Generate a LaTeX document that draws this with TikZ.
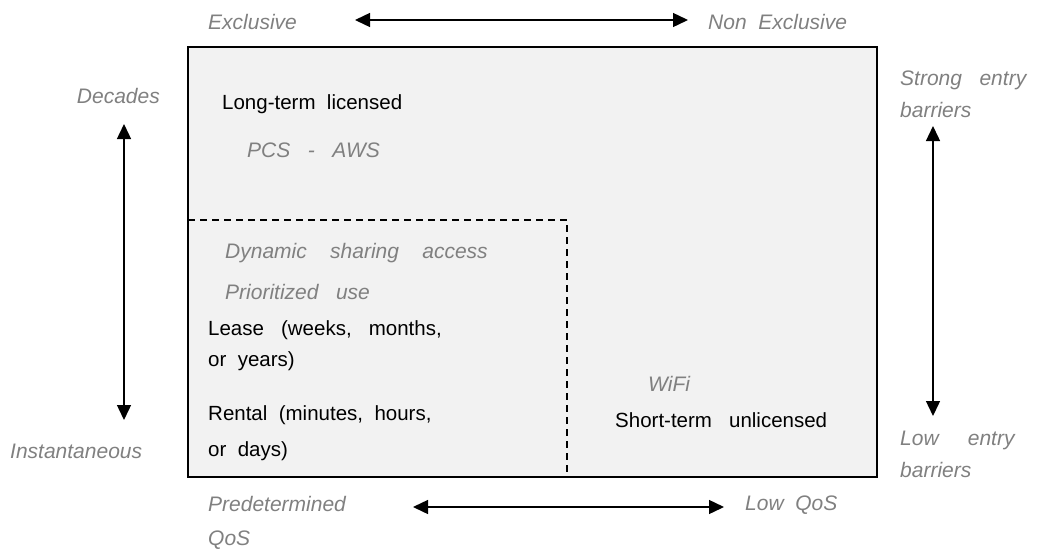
\documentclass[tikz,border=0pt]{standalone}
\usepackage{fontspec}
\setmainfont{Liberation Sans}
\usetikzlibrary{arrows.meta}
\definecolor{lbl}{RGB}{128,128,128}
\definecolor{boxfill}{RGB}{242,242,242}
\begin{document}
\begin{tikzpicture}[x=1pt,y=-1pt,
  txt/.style={anchor=west,inner sep=0pt,font=\fontsize{20.5}{24}\selectfont},
  glabel/.style={txt,text=lbl,font=\fontsize{21}{24}\selectfont\itshape},
  axis/.style={line width=1.4pt,{Triangle[length=15pt,width=14pt]}-{Triangle[length=15pt,width=14pt]}}]
\useasboundingbox (0,0) rectangle (1038,549);
% main box
\draw[line width=1.6pt,fill=boxfill] (188,47) rectangle (877,477);
\draw[line width=1.2pt,dash pattern=on 7pt off 5pt] (188,220) -- (567,220) -- (567,477);
% top axis
\node[glabel] (excl) at (208,22) {Exclusive};
\node[glabel] (nonexcl) at (708,22) {Non\ \ Exclusive};
\coordinate (ta) at (355,20);
\coordinate (tb) at (688,20);
\draw[axis] (ta) -- (tb);
% left axis
\node[glabel,anchor=east] (dec) at (160,96) {Decades};
\node[glabel] (inst) at (10,451) {Instantaneous};
\coordinate (la) at (124,124);
\coordinate (lb) at (124,420);
\draw[axis] (la) -- (lb);
% right axis
\node[glabel] (str1) at (900,80) {Strong\ \ \ entry};
\node[glabel] (str2) at (900,110) {barriers};
\node[glabel] (low1) at (900,440) {Low\ \ \ \ \ entry};
\node[glabel] (low2) at (900,470) {barriers};
\coordinate (ra) at (933,126);
\coordinate (rb) at (933,416);
\draw[axis] (ra) -- (rb);
% bottom axis
\node[glabel] (pre1) at (208,504) {Predetermined};
\node[glabel] (pre2) at (208,540) {QoS};
\node[glabel] (lowq) at (745,505) {Low\ \ QoS};
\coordinate (ba) at (413,507);
\coordinate (bb) at (724,507);
\draw[axis] (ba) -- (bb);
% contents
\node[txt] (ltl) at (222,104) {Long-term\ \ licensed};
\node[glabel] (pcs) at (247,150) {PCS\ \ \ -\ \ \ AWS};
\node[glabel] (dsa) at (225,253) {Dynamic\ \ \ \ sharing\ \ \ \ access};
\node[glabel] (pu) at (225,292) {Prioritized\ \ \ use};
\node[txt] (lease1) at (208,330) {Lease\ \ \ (weeks,\ \ \ months,};
\node[txt] (lease2) at (208,361) {or\ \ years)};
\node[txt] (rent1) at (208,415) {Rental\ \ (minutes,\ \ hours,};
\node[txt] (rent2) at (208,451) {or\ \ days)};
\node[glabel] (wifi) at (648,384) {WiFi};
\node[txt] (stu) at (615,420) {Short-term\ \ \ unlicensed};
\end{tikzpicture}
\end{document}
